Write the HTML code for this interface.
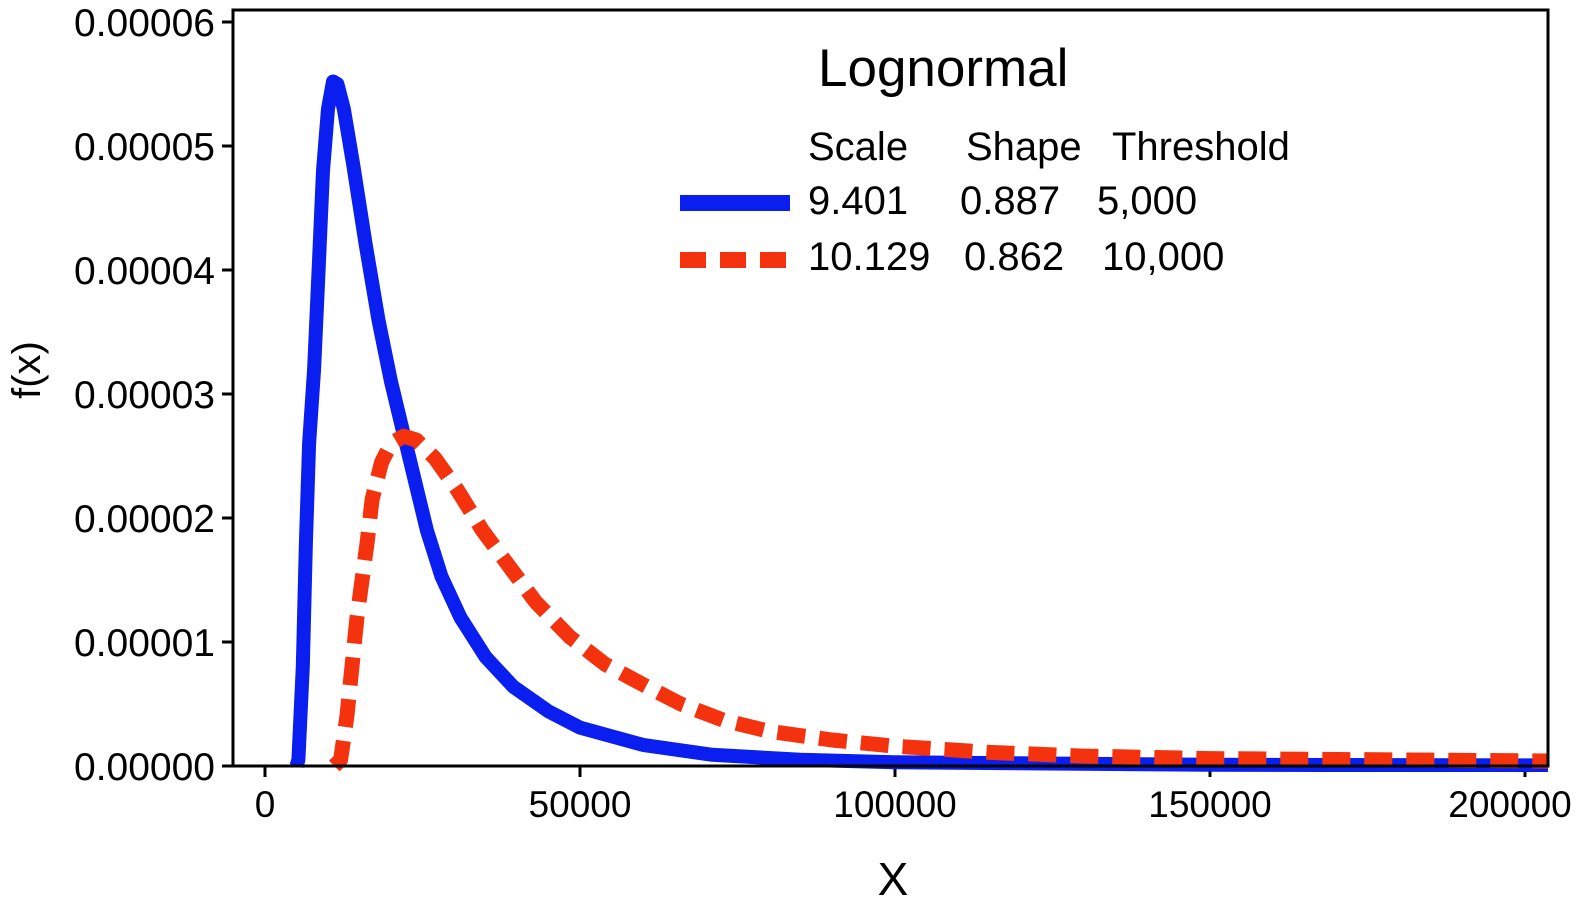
<!DOCTYPE html>
<html><head><meta charset="utf-8"><style>
body{margin:0;background:#fff;}
svg{display:block;font-family:"Liberation Sans",Arial,sans-serif;}
</style></head><body>
<svg id="chart" width="1587" height="918">
<defs><clipPath id="pc"><rect x="234" y="10" width="1314" height="762"/></clipPath></defs>
<g id="grid"></g>
<g id="series" clip-path="url(#pc)"></g>
<rect x="233" y="10" width="1315" height="756" fill="none" stroke="#000" stroke-width="3"/>
<text x="40" y="370" font-size="40" text-anchor="middle" transform="rotate(-90 40 370)">f(x)</text>
<text x="893" y="895" font-size="46" text-anchor="middle">X</text>
<g font-size="40">
<text x="818" y="86" font-size="53">Lognormal</text>
<text x="808" y="160">Scale</text>
<text x="966" y="160">Shape</text>
<text x="1112" y="160">Threshold</text>
<line x1="680" y1="203" x2="790" y2="203" stroke="#0b1ef0" stroke-width="16"/>
<text x="808" y="214">9.401</text>
<text x="960" y="214">0.887</text>
<text x="1097" y="214">5,000</text>
<line x1="680" y1="260" x2="790" y2="260" stroke="#f5320e" stroke-width="16" stroke-dasharray="26,14"/>
<text x="808" y="270">10.129</text>
<text x="964" y="270">0.862</text>
<text x="1102" y="270">10,000</text>
</g>
</svg>
<script>
const yTicks=[0,0.00001,0.00002,0.00003,0.00004,0.00005,0.00006];
const yTickLabels=["0.00000","0.00001","0.00002","0.00003","0.00004","0.00005","0.00006"];
const xTicks=[0,50000,100000,150000,200000];
const xTickLabels=["0","50000","100000","150000","200000"];
const blueX=[5000,5300,6000,6500,7000,7800,8500,9200,10000,10800,11500,12500,14000,16000,18000,20000,22500,25700,28000,31000,35000,39400,45000,50000,60000,71000,85000,100000,150000,205000];
const blueY=[0,0.5e-6,8e-6,18e-6,26e-6,32e-6,40e-6,48e-6,53e-6,55.2e-6,55e-6,53e-6,48.5e-6,42e-6,36e-6,31e-6,25.7e-6,19e-6,15.3e-6,12e-6,8.8e-6,6.4e-6,4.4e-6,3.1e-6,1.7e-6,0.9e-6,0.5e-6,0.3e-6,0.1e-6,0.05e-6];
const redX=[11000,12000,13000,14600,16200,17000,18500,20000,22000,24000,27000,30500,34500,38900,43000,48400,54000,60600,66000,72700,80000,90000,100000,115000,130000,150000,205000];
const redY=[0,0.5e-6,4e-6,12e-6,18e-6,21.5e-6,24.5e-6,26e-6,26.6e-6,26.3e-6,24.8e-6,22.3e-6,19e-6,16e-6,13.2e-6,10.4e-6,8.2e-6,6.4e-6,5e-6,3.7e-6,2.8e-6,2.1e-6,1.6e-6,1.1e-6,0.8e-6,0.6e-6,0.4e-6];
const NS="http://www.w3.org/2000/svg";
const xs=v=>265+v*(315/50000);
const ys=v=>766-v*(744/0.00006);
const g=document.getElementById('grid'),s=document.getElementById('series');
function el(t,a,p){const e=document.createElementNS(NS,t);for(const k in a)e.setAttribute(k,a[k]);p.appendChild(e);return e;}
yTicks.forEach((v,i)=>{
 const l=el('line',{x1:222,x2:233,y1:ys(v),y2:ys(v),stroke:'#000','stroke-width':3},g);
 
 
 const t=el('text',{x:215,y:ys(v)+14,'font-size':39,'text-anchor':'end'},g);
 t.textContent=yTickLabels[i];
 
 
});
xTicks.forEach((v,i)=>{
 const l=el('line',{x1:xs(v),x2:xs(v),y1:766,y2:777,stroke:'#000','stroke-width':3},g);
 
 
 const t=el('text',{x:xs(v)-(i==4?15:0),y:817,'font-size':37,'text-anchor':'middle'},g);
 t.textContent=xTickLabels[i];
 
 
});
function path(X,Y){return X.map((x,i)=>(i?'L':'M')+xs(x).toFixed(1)+','+ys(Y[i]).toFixed(1)).join(' ');}
const b=el('path',{d:path(blueX,blueY),fill:'none',stroke:'#0b1ef0','stroke-width':14,'stroke-linejoin':'round'},s);


const r=el('path',{d:path(redX,redY),fill:'none',stroke:'#f5320e','stroke-width':15,'stroke-dasharray':'28,14','stroke-linejoin':'round'},s);


</script>
</body></html>
